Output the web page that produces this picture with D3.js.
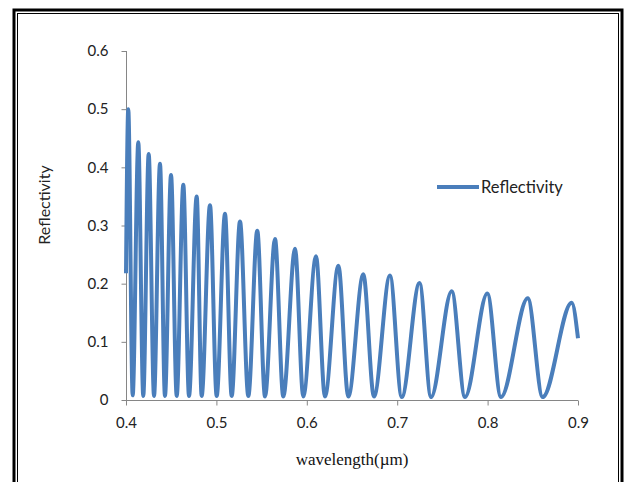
<!DOCTYPE html>
<html>
<head>
<meta charset="utf-8">
<script src="https://cdn.jsdelivr.net/npm/d3@7"></script>
<style>
  html, body { margin: 0; padding: 0; background: #fff; }
  svg { display: block; }
</style>
</head>
<body>
<svg id="chart" width="625" height="482"></svg>
<script>
// Extrema (wavelength in µm, reflectivity)
const wavelength = [
  0.4000, 0.4025, 0.4074, 0.4136, 0.4191, 0.4251, 0.4310, 0.4376, 0.4431,
  0.4498, 0.4561, 0.4634, 0.4697, 0.4782, 0.4837, 0.4929, 0.5003, 0.5095,
  0.5169, 0.5261, 0.5353, 0.5452, 0.5538, 0.5648, 0.5740, 0.5870, 0.5961,
  0.6102, 0.6201, 0.6349, 0.6459, 0.6625, 0.6743, 0.6920, 0.7050, 0.7247,
  0.7374, 0.7603, 0.7750, 0.7997, 0.8148, 0.8444, 0.8609, 0.8930, 0.9000
];
const reflectivity = [
  0.218, 0.500, 0.008, 0.443, 0.007, 0.423, 0.007, 0.406, 0.007,
  0.387, 0.007, 0.370, 0.007, 0.350, 0.007, 0.335, 0.007, 0.320,
  0.007, 0.307, 0.007, 0.291, 0.006, 0.277, 0.006, 0.260, 0.006,
  0.247, 0.006, 0.231, 0.006, 0.216, 0.006, 0.214, 0.005, 0.201,
  0.005, 0.187, 0.005, 0.183, 0.005, 0.175, 0.005, 0.167, 0.106
];
const xTicks = [0.4, 0.5, 0.6, 0.7, 0.8, 0.9];
const yTicks = [0, 0.1, 0.2, 0.3, 0.4, 0.5, 0.6];
const seriesName = "Reflectivity";
const xTitle = "wavelength(µm)";
const yTitle = "Reflectivity";

const svg = d3.select("#chart");
const blue = "#4a7ebb";
const axisColor = "#868686";
const sans = "Lato, 'Open Sans', sans-serif";

// Double frame
svg.append("rect").attr("x", 14).attr("y", 10).attr("width", 608).attr("height", 490)
  .attr("fill", "none").attr("stroke", "#000").attr("stroke-width", 3);
svg.append("rect").attr("x", 17.5).attr("y", 13.5).attr("width", 601).attr("height", 480)
  .attr("fill", "none").attr("stroke", "#000").attr("stroke-width", 1);

const x = d3.scaleLinear().domain([0.4, 0.9]).range([126, 578]);
const y = d3.scaleLinear().domain([0, 0.6]).range([400, 51]);

// Axes
const yAxis = d3.axisLeft(y).tickValues(yTicks).tickSize(5).tickPadding(13)
  .tickFormat(d => d === 0 ? "0" : d3.format(".1f")(d));
const gy = svg.append("g").attr("transform", "translate(126.5,0)").call(yAxis);
const xAxis = d3.axisBottom(x).tickValues(xTicks).tickSize(5).tickPadding(12)
  .tickFormat(d3.format(".1f"));
const gx = svg.append("g").attr("transform", "translate(0,400.5)").call(xAxis);

[gx, gy].forEach(g => {
  g.select(".domain").attr("stroke", axisColor).attr("stroke-width", 1);
  g.selectAll(".tick line").attr("stroke", axisColor);
  g.selectAll(".tick text").attr("fill", "#222")
    .style("font-family", sans).style("font-size", "15px");
});
gx.select(".domain").attr("d", `M126,0H${x(0.9)}`);
gy.select(".domain").attr("d", `M0,${y(0)}V${y(0.6)}`);

// Series
const pts = wavelength.map((w, i) => [w, reflectivity[i]]);
const line = d3.line().x(d => x(d[0])).y(d => y(d[1])).curve(d3.curveMonotoneX);
svg.append("path").datum(pts).attr("d", line)
  .attr("fill", "none").attr("stroke", blue).attr("stroke-width", 4)
  .attr("stroke-linejoin", "round");

// Axis titles
svg.append("text").attr("transform", "translate(50,205) rotate(-90)")
  .attr("text-anchor", "middle").attr("fill", "#222")
  .style("font-family", sans).style("font-size", "16px")
  .text(yTitle);
svg.append("text").attr("x", 352).attr("y", 465)
  .attr("text-anchor", "middle").attr("fill", "#111")
  .style("font-family", "'Liberation Serif', 'Times New Roman', serif").style("font-size", "17px")
  .text(xTitle);

// Legend
svg.append("line").attr("x1", 437).attr("x2", 479).attr("y1", 187).attr("y2", 187)
  .attr("stroke", blue).attr("stroke-width", 4);
svg.append("text").attr("x", 481).attr("y", 193)
  .attr("fill", "#222")
  .style("font-family", sans).style("font-size", "16.5px")
  .text(seriesName);
</script>
</body>
</html>
